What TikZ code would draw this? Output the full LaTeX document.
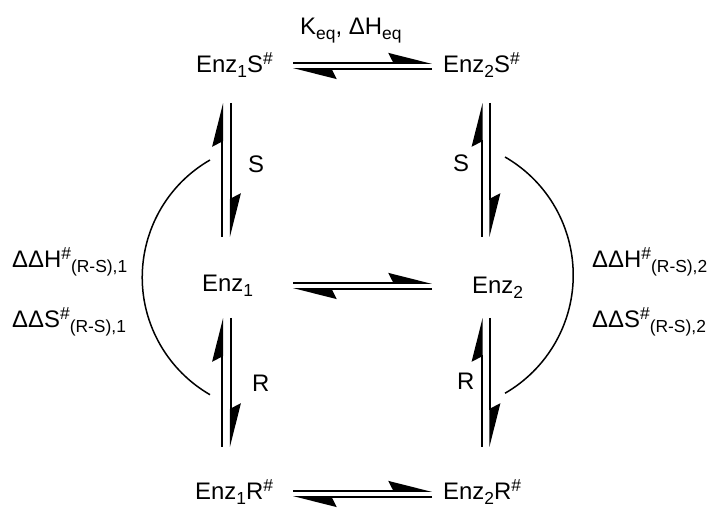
\documentclass[tikz,border=0pt]{standalone}
\usepackage{fontspec}
\setmainfont{Liberation Sans}
\usetikzlibrary{arrows.meta}
\newcommand{\lo}[1]{\raisebox{-5bp}{\fontsize{17.5}{18}\selectfont #1}}
\newcommand{\hi}[1]{\raisebox{8bp}{\fontsize{17.5}{18}\selectfont #1}}
% pair of harpoons, horizontal and vertical
\newcommand{\eqh}[2]{%
  \draw[harp] ([yshift=3bp]#1) -- ([yshift=3bp]#2);
  \draw[harp] ([yshift=-3bp]#2) -- ([yshift=-3bp]#1);}
\newcommand{\eqv}[2]{%
  \draw[harp] ([xshift=-4.3bp]#2) -- ([xshift=-4.3bp]#1);
  \draw[harp] ([xshift=4.3bp]#1) -- ([xshift=4.3bp]#2);}
\tikzset{
  lbl/.style={anchor=base west, inner sep=0pt, font=\fontsize{24}{28}\selectfont},
  harp/.style={line width=1.8bp, -{Stealth[left, length=40bp, width=20bp, inset=5bp]}},
  arcline/.style={line width=1.5bp}
}
\begin{document}
\begin{tikzpicture}[x=1bp, y=1bp]
  \useasboundingbox (0,0) rectangle (725,517);
  % species
  \node[lbl] (e1s) at (196,444) {Enz\lo{1}S\hi{\#}};
  \node[lbl] (e2s) at (443,444) {Enz\lo{2}S\hi{\#}};
  \node[lbl] (keq) at (300,482) {K\lo{eq}, ΔH\lo{eq}};
  \node[lbl] (e1) at (202,225) {Enz\lo{1}};
  \node[lbl] (e2) at (472,223) {Enz\lo{2}};
  \node[lbl] (e1r) at (195,17) {Enz\lo{1}R\hi{\#}};
  \node[lbl] (e2r) at (443,17) {Enz\lo{2}R\hi{\#}};
  % substrate labels
  \node[lbl] (s1) at (248,344) {S};
  \node[lbl] (s2) at (453,345) {S};
  \node[lbl] (r1) at (252,125) {R};
  \node[lbl] (r2) at (457,127) {R};
  % activation differences
  \node[lbl] (dh1) at (12,249) {ΔΔH\hi{\#}\lo{(R-S),1}};
  \node[lbl] (ds1) at (12,189) {ΔΔS\hi{\#}\lo{(R-S),1}};
  \node[lbl] (dh2) at (592,249) {ΔΔH\hi{\#}\lo{(R-S),2}};
  \node[lbl] (ds2) at (592,189) {ΔΔS\hi{\#}\lo{(R-S),2}};
  % arrow ends
  \coordinate (t1) at (293,451);
  \coordinate (t2) at (432,451);
  \coordinate (m1) at (293,231);
  \coordinate (m2) at (432,231);
  \coordinate (b1) at (293,23);
  \coordinate (b2) at (432,23);
  \coordinate (lu1) at (226.5,414);
  \coordinate (lu2) at (226.5,280);
  \coordinate (ll1) at (226.5,199);
  \coordinate (ll2) at (226.5,70);
  \coordinate (ru1) at (486,414);
  \coordinate (ru2) at (486,280);
  \coordinate (rl1) at (486,199);
  \coordinate (rl2) at (486,70);
  \eqh{t1}{t2}
  \eqh{m1}{m2}
  \eqh{b1}{b2}
  \eqv{lu1}{lu2}
  \eqv{ll1}{ll2}
  \eqv{ru1}{ru2}
  \eqv{rl1}{rl2}
  % arcs
  \draw[arcline] (210,357) arc[start angle=120, end angle=240, radius=135.5];
  \draw[arcline] (505,360) arc[start angle=60, end angle=-60, radius=136.4];
\end{tikzpicture}
\end{document}
